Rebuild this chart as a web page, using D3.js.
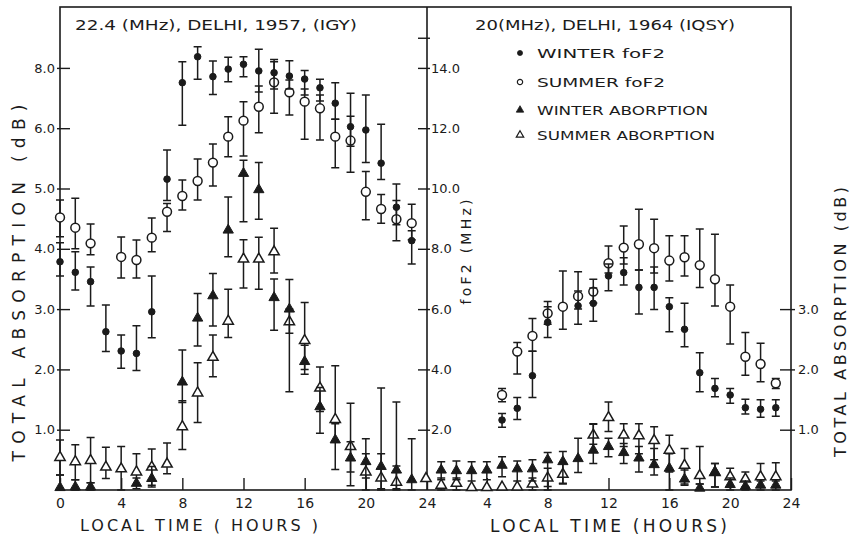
<!DOCTYPE html>
<html>
<head>
<meta charset="utf-8">
<script src="https://cdn.jsdelivr.net/npm/d3@7"></script>
<style>
  body { margin: 0; background: #fff; }
  text { font-family: "DejaVu Sans", sans-serif; fill: #1b1b1b; }
</style>
</head>
<body>
<div id="chart"></div>
<script>
// each entry is one hour (0..23): [value, low, high], null = no point
// foF2 in MHz, absorption in dB
var igyWinterF = [[7.57,7.1,8.2],[7.22,6.63,7.9],[6.91,6.1,7.4],[5.25,4.59,6.14],[4.61,4.04,5.14],[4.53,3.96,5.45],
  [5.91,5.05,7.1],[10.31,9.6,11.28],[13.51,12.1,14.2],[14.37,13.62,14.7],[13.71,13.12,14.23],[13.96,13.54,14.35],
  [14.12,13.71,14.37],[13.9,13.2,14.62],[13.84,13.3,14.28],[13.73,13.3,14.24],[13.63,13.1,13.91],[13.34,12.9,13.62],
  [12.83,12.3,13.51],[12.05,11.4,13.16],[11.94,10.86,13.1],[10.84,10.3,12.13],[9.38,8.8,10.15],[8.27,7.5,8.6]];
var igySummerF = [[9.04,8.4,9.62],[8.7,8.0,9.68],[8.18,7.8,8.82],null,[7.73,7.03,8.39],[7.63,7.03,8.29],
  [8.37,7.9,9.02],[9.23,8.57,9.5],[9.75,9.29,10.28],[10.25,9.62,10.98],[10.86,10.08,11.48],[11.72,11.05,12.38],
  [12.25,11.08,12.88],[12.71,11.85,13.4],[13.52,12.5,14.2],[13.19,12.44,13.6],[12.88,11.63,13.3],[12.66,11.61,13.1],
  [11.72,10.69,12.3],[11.59,10.54,12.4],[9.89,8.96,10.56],[9.32,8.85,9.8],[8.98,8.27,9.6],[8.85,8.3,9.48]];
var igyWinterA = [[0.04,0,0.25],[0.05,0,0.17],[0.05,0,0.12],null,null,[0.11,0.02,0.2],
  [0.19,0.05,0.39],null,[1.79,1.45,2.32],[2.85,2.39,3.26],[3.22,2.72,3.59],[4.31,3.87,4.86],
  [5.25,4.45,5.47],[4.98,4.49,5.43],[3.19,2.65,3.5],[3.0,2.6,3.49],[2.13,1.92,2.4],[1.38,0.94,1.7],
  [0.83,0.34,1.1],[0.53,0.07,0.8],[0.47,0.2,0.85],[0.39,0.02,1.69],[0.33,0.02,1.46],[0.17,0,0.85]];
var igySummerA = [[0.54,0.25,0.83],[0.47,0.17,0.75],[0.49,0.12,0.87],[0.38,0.19,0.71],[0.35,0,0.72],[0.3,0.08,0.6],
  [0.38,0.08,0.68],[0.43,0.27,0.78],[1.05,0.67,1.48],[1.61,1.12,2.11],[2.2,1.88,2.57],[2.8,2.53,3.33],
  [3.83,3.35,4.15],[3.83,3.33,4.19],[3.95,3.6,4.34],[2.79,1.63,3.0],[2.48,2.0,3.11],[1.69,1.3,2.04],
  [1.17,0.8,2.06],[0.72,0.3,1.44],[0.3,0,0.6],[0.2,0,0.6],[0.13,0,0.4],null];

var iqsyWinterF = [null,null,null,null,null,[2.32,2.08,2.54],
  [2.71,2.34,3.07],[3.79,3.07,4.6],[5.56,5.06,6.08],null,[6.11,5.5,6.6],[6.19,5.6,6.7],
  [7.1,6.61,7.5],[7.21,6.8,7.7],[6.72,5.84,7.3],[6.72,5.99,7.4],[6.08,5.25,6.38],[5.33,4.75,6.19],
  [3.89,3.26,4.55],[3.37,3.09,3.7],[3.15,2.88,3.37],[2.73,2.52,3.01],[2.68,2.41,2.99],[2.73,2.45,2.99]];
var iqsySummerF = [null,null,null,null,null,[3.15,2.93,3.37],
  [4.59,3.85,4.89],[5.11,4.6,5.69],[5.86,5.5,6.25],[6.08,5.33,7.26],[6.43,6.0,7.24],[6.58,6.2,6.99],
  [7.52,7.2,8.09],[8.04,7.5,8.76],[8.15,7.3,9.31],[8.02,7.2,8.98],[7.61,6.93,8.43],[7.72,7.1,8.43],
  [7.46,6.72,8.66],[6.99,6.1,8.48],[6.08,4.84,6.8],[4.42,3.81,5.22],[4.18,3.59,4.87],[3.54,3.37,3.7]];
var iqsyWinterA = [null,[0.33,0.17,0.47],[0.32,0.17,0.48],[0.32,0.15,0.47],[0.33,0.17,0.47],[0.41,0.22,0.55],
  [0.35,0.15,0.48],[0.35,0.15,0.5],[0.5,0,0.62],[0.47,0.11,0.64],[0.52,0.29,0.86],[0.66,0.44,1.1],
  [0.72,0.55,0.86],[0.62,0.44,0.77],[0.53,0.3,0.72],[0.42,0.25,0.69],[0.36,0,0.6],[0.18,0.08,0.33],
  [0.03,0,0.1],[0.3,0.05,0.44],[0.09,0,0.2],[0.06,0,0.15],[0.08,0,0.15],[0.08,0,0.15]];
var iqsySummerA = [[0.19,null,null],[0.08,0,0.2],[0.11,0,0.2],[0.04,null,null],[0.04,null,null],[0.05,null,null],
  [0.05,null,null],[0.1,0,0.2],[0.2,0.06,0.36],[0.26,0.1,0.45],null,[0.91,0.76,1.09],
  [1.2,0.97,1.46],[0.91,0.72,1.1],[0.9,0.6,1.1],[0.82,0.5,1.05],[0.66,0.3,0.91],[0.41,0.1,0.69],
  [0.24,0.1,0.72],[0.29,0.05,0.44],[0.22,0.05,0.36],[0.18,0.05,0.3],[0.22,0.05,0.44],[0.22,0.05,0.45]];

var dbTicks = [1, 2, 3, 4, 5, 6, 7],
    dbLabels = ["1.0", "2.0", "3.0", "4.0", "5.0", "6.0", "8.0"],
    mhzTicks = [2, 4, 6, 8, 10, 12, 14, 15],
    rightTicks = [1, 2, 3],
    hourTicksL = [0, 4, 8, 12, 16, 20, 24],
    hourTicksR = [4, 8, 12, 16, 20, 24];

var legendLabels = ["WINTER foF2", "SUMMER foF2", "WINTER ABORPTION", "SUMMER ABORPTION"];

var width = 852, height = 544, ink = "#1b1b1b";

var svg = d3.select("#chart").append("svg")
    .attr("width", width)
    .attr("height", height);

var xL = d3.scaleLinear().domain([0, 24]).range([60, 427]),
    xR = d3.scaleLinear().domain([0, 24]).range([426, 791]),
    yDb = d3.scaleLinear().domain([0, 8]).range([490, 7.6]),
    yMhz = d3.scaleLinear().domain([0, 16]).range([490, 7.6]);

// frame + divider
svg.append("rect")
    .attr("x", 60).attr("y", 7).attr("width", 731).attr("height", 483)
    .attr("fill", "none").attr("stroke", ink).attr("stroke-width", 1.6);
svg.append("line")
    .attr("x1", 427).attr("x2", 427).attr("y1", 7).attr("y2", 490)
    .attr("stroke", ink).attr("stroke-width", 1.6);

function styleAxis(g, size) {
  g.select(".domain").remove();
  g.selectAll("line").attr("stroke", ink).attr("stroke-width", 1.4);
  g.selectAll("text").attr("font-size", size || 13).attr("fill", ink)
    .style("font-family", '"DejaVu Sans", sans-serif');
}

// left dB axis
svg.append("g").attr("transform", "translate(70,0)")
    .call(d3.axisLeft(yDb).tickValues(dbTicks).tickSize(13).tickPadding(2)
      .tickFormat(function (d, i) { return dbLabels[i]; }))
    .call(styleAxis);

// foF2 axis on the divider
svg.append("g").attr("transform", "translate(418,0)")
    .call(d3.axisRight(yMhz).tickValues(mhzTicks).tickSize(12).tickPadding(1)
      .tickFormat(function (d) { return d === 15 ? "" : d.toFixed(1); }))
    .call(styleAxis);

// right dB axis
svg.append("g").attr("transform", "translate(780,0)")
    .call(d3.axisRight(yDb).tickValues(rightTicks).tickSize(15).tickPadding(3)
      .tickFormat(d3.format(".1f")))
    .call(styleAxis);

// time axes, ticks pointing up
svg.append("g").attr("transform", "translate(0,490)")
    .call(d3.axisBottom(xL).tickValues(hourTicksL).tickSizeInner(-12).tickSizeOuter(0).tickPadding(8))
    .call(styleAxis, 14);
svg.append("g").attr("transform", "translate(0,490)")
    .call(d3.axisBottom(xR).tickValues(hourTicksR).tickSizeInner(-12).tickSizeOuter(0).tickPadding(8))
    .call(styleAxis, 14);

var sym = {
  wf: d3.symbol().type(d3.symbolCircle).size(34),
  sf: d3.symbol().type(d3.symbolCircle).size(62),
  wa: d3.symbol().type(d3.symbolTriangle).size(46),
  sa: d3.symbol().type(d3.symbolTriangle).size(46)
};

function plot(data, x, y, kind) {
  var pts = data.map(function (d, i) { return d ? { h: i, v: d[0], lo: d[1], hi: d[2] } : null; })
      .filter(function (d) { return d; });
  var g = svg.append("g");
  var bars = pts.filter(function (d) { return d.lo != null; });
  g.selectAll(".bar").data(bars).enter().append("path")
      .attr("fill", "none").attr("stroke", ink).attr("stroke-width", 1.5)
      .attr("d", function (d) {
        var cx = x(d.h), t = y(d.hi), b = y(d.lo);
        return "M" + cx + "," + t + "V" + b +
          "M" + (cx - 4) + "," + t + "H" + (cx + 4) +
          "M" + (cx - 4) + "," + b + "H" + (cx + 4);
      });
  var open = kind === "sf" || kind === "sa";
  g.selectAll(".pt").data(pts).enter().append("path")
      .attr("transform", function (d) { return "translate(" + x(d.h) + "," + y(d.v) + ")"; })
      .attr("d", sym[kind])
      .attr("fill", open ? "#fff" : ink)
      .attr("stroke", ink).attr("stroke-width", open ? 1.5 : 1);
}

plot(igySummerA, xL, yDb, "sa");
plot(igyWinterA, xL, yDb, "wa");
plot(igySummerF, xL, yMhz, "sf");
plot(igyWinterF, xL, yMhz, "wf");
plot(iqsySummerA, xR, yDb, "sa");
plot(iqsyWinterA, xR, yDb, "wa");
plot(iqsySummerF, xR, yMhz, "sf");
plot(iqsyWinterF, xR, yMhz, "wf");

// titles
svg.append("text").attr("x", 75).attr("y", 30).attr("font-size", 14)
    .attr("textLength", 282).attr("lengthAdjust", "spacingAndGlyphs")
    .text("22.4 (MHz), DELHI, 1957, (IGY)");
svg.append("text").attr("x", 475).attr("y", 30).attr("font-size", 14)
    .attr("textLength", 260).attr("lengthAdjust", "spacingAndGlyphs")
    .text("20(MHz), DELHI, 1964 (IQSY)");

// legend
var legendY = [53, 82, 110, 135],
    legendW = [128, 128, 171, 178],
    legendSym = [
      d3.symbol().type(d3.symbolCircle).size(20),
      d3.symbol().type(d3.symbolCircle).size(22),
      d3.symbol().type(d3.symbolTriangle).size(24),
      d3.symbol().type(d3.symbolTriangle).size(24)
    ];
legendLabels.forEach(function (lab, i) {
  var open = i % 2 === 1;
  svg.append("path").attr("transform", "translate(520," + legendY[i] + ")")
      .attr("d", legendSym[i])
      .attr("fill", open ? "#fff" : ink).attr("stroke", ink).attr("stroke-width", open ? 1.2 : 0.8);
  svg.append("text").attr("x", 537).attr("y", legendY[i] + 5).attr("font-size", 13)
      .attr("textLength", legendW[i]).attr("lengthAdjust", "spacingAndGlyphs")
      .text(lab);
});

// axis titles
svg.append("text").attr("transform", "translate(25,283) rotate(-90)")
    .attr("text-anchor", "middle").attr("font-size", 17)
    .attr("textLength", 357).attr("lengthAdjust", "spacing")
    .text("TOTAL ABSORPTION (dB)");
svg.append("text").attr("transform", "translate(846,322) rotate(-90)")
    .attr("text-anchor", "middle").attr("font-size", 16)
    .attr("textLength", 270).attr("lengthAdjust", "spacing")
    .text("TOTAL ABSORPTION (dB)");
svg.append("text").attr("transform", "translate(471,252) rotate(-90)")
    .attr("text-anchor", "middle").attr("font-size", 14)
    .attr("textLength", 105).attr("lengthAdjust", "spacing")
    .text("foF2 (MHz)");
svg.append("text").attr("x", 80).attr("y", 531).attr("font-size", 16)
    .attr("textLength", 238).attr("lengthAdjust", "spacing")
    .text("LOCAL TIME ( HOURS )");
svg.append("text").attr("x", 490).attr("y", 532).attr("font-size", 17)
    .attr("textLength", 237).attr("lengthAdjust", "spacing")
    .text("LOCAL TIME (HOURS)");
</script>
</body>
</html>
